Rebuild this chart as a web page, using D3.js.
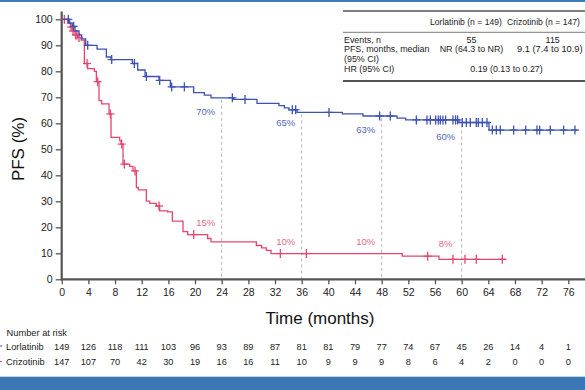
<!DOCTYPE html>
<html><head><meta charset="utf-8">
<script src="https://cdn.jsdelivr.net/npm/d3@7"></script>
<style>
html,body{margin:0;padding:0;background:#fff;overflow:hidden}
svg{display:block;font-family:"Liberation Sans",Arial,Helvetica,sans-serif}
</style></head><body>
<svg id="c" width="585" height="390"></svg>
<script>
// ---------- DATA ----------
const xTicks = d3.range(0, 77, 4);
const yTicks = d3.range(0, 101, 10);

// Lorlatinib KM steps: [time (months), PFS %]
const lorlaTimes  = [0, 1.2, 1.6, 2.0, 2.6, 3.0, 3.6, 5.3, 6.7, 7.4, 10.6, 11.4, 12.5, 14.6, 16.3, 19.8, 21.4, 22.4, 25.8, 29.3, 32.6, 33.4, 34.1, 35.3, 42.1, 45.2, 50.3, 51.6, 59.6, 64.1, 77.4];
const lorlaValues = [100, 98.5, 97.3, 95.5, 94, 92.5, 90, 88.5, 85.5, 84.5, 83, 80.5, 78, 76.5, 74, 71.8, 70.8, 69.8, 69.2, 67.7, 66.8, 65.9, 65.2, 64.2, 63.6, 62.8, 62, 61.3, 60.3, 57.4, 57.4];
const lorlaCensor = [1.0, 1.8, 3.9, 7.5, 10.9, 12.7, 14.7, 16.5, 18.4, 25.6, 27.5, 34.6, 35.1, 40.1, 47.7, 49.3, 53.2, 54.8, 55.3, 56.1, 56.5, 56.8, 57.2, 57.6, 58.7, 59.1, 59.4, 60.1, 60.7, 61.3, 62.2, 62.5, 63.1, 63.8, 64.6, 65.2, 65.8, 67.8, 69.6, 71.3, 71.7, 73.3, 75.3, 77.0];

// Crizotinib KM steps
const crizoTimes  = [0, 0.9, 1.3, 1.6, 2.0, 2.4, 2.9, 3.4, 3.9, 4.9, 5.2, 5.6, 6.0, 7.1, 7.4, 8.7, 8.9, 9.2, 10.2, 10.7, 11.2, 11.5, 12.7, 13.2, 14.2, 14.7, 15.9, 16.6, 18.2, 18.9, 21.9, 22.4, 29.2, 30.0, 30.7, 31.4, 51.1, 56.6, 66.7];
const crizoValues = [100, 98.5, 97, 95.5, 94, 93, 92, 83, 81, 80, 76, 68.7, 67.5, 63.6, 54.6, 53.3, 52, 44.3, 43.4, 41.7, 35.3, 34.4, 30.1, 29.2, 28.2, 26.3, 25.9, 22.4, 18.3, 17.2, 15.7, 14.4, 13, 12.1, 11.1, 9.9, 8.9, 7.7, 7.7];
const crizoCensor = [0.4, 1.4, 1.7, 2.1, 2.3, 2.6, 3.8, 5.4, 7.3, 9.0, 9.4, 11.0, 14.6, 19.8, 32.8, 36.7, 54.9, 58.7, 60.5, 62.2, 66.1];

const landmarkMonths = [24, 36, 48, 60];
const lorlaLandmarkLabels = ["70%", "65%", "63%", "60%"];
const crizoLandmarkLabels = ["15%", "10%", "10%", "8%"];

const riskNames = ["Lorlatinib", "Crizotinib"];
const lorlaAtRisk = [149, 126, 118, 111, 103, 96, 93, 89, 87, 81, 81, 79, 77, 74, 67, 45, 26, 14, 4, 1];
const crizoAtRisk = [147, 107, 70, 42, 30, 19, 16, 16, 11, 10, 9, 9, 9, 8, 6, 4, 2, 0, 0, 0];

const tableHeader = ["Lorlatinib (n = 149)", "Crizotinib (n = 147)"];
const tableRows = [
  ["Events, n", "55", "115"],
  ["PFS, months, median", "NR (64.3 to NR)", "9.1 (7.4 to 10.9)"],
  ["(95% CI)", "", ""],
  ["HR (95% CI)", "0.19 (0.13 to 0.27)", null]
];

// ---------- DRAW ----------
const BLUE = "#3d52b3", RED = "#e4466f", AX = "#555";
const svg = d3.select("#c");
const x = d3.scaleLinear().domain([0, 76]).range([61.7, 568.3]);
const y = d3.scaleLinear().domain([0, 100]).range([279.3, 19.3]);

// frame bands
svg.append("rect").attr("x",0).attr("y",0).attr("width",585).attr("height",2).attr("fill","#3d7ab8");
svg.append("rect").attr("x",0).attr("y",376.7).attr("width",585).attr("height",14).attr("fill","#3a77b4");

function valAt(times, vals, t){
  let v = vals[0];
  for (let i=0;i<times.length;i++){ if (times[i] <= t) v = vals[i]; }
  return v;
}

// landmark dashed lines
landmarkMonths.forEach(m => {
  svg.append("line").attr("x1",x(m)).attr("x2",x(m))
    .attr("y1",y(valAt(lorlaTimes,lorlaValues,m))+2).attr("y2",y(0))
    .attr("stroke","#b5b5b5").attr("stroke-width",1).attr("stroke-dasharray","3,3");
});

// axes
const xAxis = d3.axisBottom(x).tickValues(xTicks).tickSize(5).tickPadding(4);
const gx = svg.append("g").attr("transform",`translate(0,${y(0)})`).call(xAxis);
gx.select(".domain").remove();
gx.append("line").attr("x1",x(0)).attr("x2",585).attr("stroke",AX).attr("stroke-width",2.2);
gx.selectAll(".tick line").attr("stroke",AX).attr("stroke-width",1.3);
gx.selectAll(".tick text").attr("font-size",10.5).attr("fill","#222").attr("font-family","Liberation Sans, Arial, sans-serif");

const yAxis = d3.axisLeft(y).tickValues(yTicks).tickSize(6).tickPadding(3);
const gy = svg.append("g").attr("transform",`translate(${x(0)},0)`).call(yAxis);
gy.select(".domain").remove();
gy.append("line").attr("y1",11.5).attr("y2",y(0)+1).attr("stroke",AX).attr("stroke-width",2.2);
gy.selectAll(".tick line").attr("stroke",AX).attr("stroke-width",1.3);
gy.selectAll(".tick text").attr("font-size",10.5).attr("fill","#222").attr("font-family","Liberation Sans, Arial, sans-serif");

// axis titles
svg.append("text").attr("x",320).attr("y",324).attr("text-anchor","middle")
  .attr("font-size",17).attr("fill","#111").text("Time (months)");
svg.append("text").attr("transform","translate(24,149) rotate(-90)").attr("text-anchor","middle")
  .attr("font-size",17).attr("fill","#111").text("PFS (%)");

// curves
const line = d3.line().x(d=>x(d[0])).y(d=>y(d[1])).curve(d3.curveStepAfter);
function drawCurve(times, vals, censor, color){
  const pts = times.map((t,i)=>[t, vals[i]]);
  svg.append("path").datum(pts).attr("d",line).attr("fill","none")
    .attr("stroke",color).attr("stroke-width",1.3);
  const g = svg.append("g");
  censor.forEach(t => {
    const cx = x(t), cy = y(valAt(times, vals, t));
    g.append("line").attr("x1",cx).attr("x2",cx).attr("y1",cy-4.5).attr("y2",cy+4.5)
      .attr("stroke",color).attr("stroke-width",1.3);
    g.append("line").attr("x1",cx-4).attr("x2",cx+4).attr("y1",cy).attr("y2",cy)
      .attr("stroke",color).attr("stroke-width",1.2);
  });
}
drawCurve(crizoTimes, crizoValues, crizoCensor, RED);
drawCurve(lorlaTimes, lorlaValues, lorlaCensor, BLUE);

// landmark labels
landmarkMonths.forEach((m,i) => {
  svg.append("text").attr("x",x(m)-16).attr("y",y(valAt(lorlaTimes,lorlaValues,m))+ (i===1?14:17))
    .attr("text-anchor","middle").attr("font-size",9.5).attr("fill","#5567bf").text(lorlaLandmarkLabels[i]);
  svg.append("text").attr("x",x(m)-16).attr("y",y(valAt(crizoTimes,crizoValues,m)) - (i===0?16:(i===3?12:9)))
    .attr("text-anchor","middle").attr("font-size",9.5).attr("fill","#e66889").text(crizoLandmarkLabels[i]);
});

// number at risk
svg.append("text").attr("x",6.5).attr("y",335.5).attr("font-size",9.3).attr("fill","#222").text("Number at risk");
[lorlaAtRisk, crizoAtRisk].forEach((arr, r) => {
  const yy = r===0 ? 349.5 : 365;
  svg.append("line").attr("x1",-3).attr("x2",2).attr("y1",yy-3.5).attr("y2",yy-3.5)
    .attr("stroke", r===0?BLUE:RED).attr("stroke-width",1);
  svg.append("text").attr("x",6).attr("y",yy).attr("font-size",9.3).attr("fill","#222").text(riskNames[r]);
  arr.forEach((n,i) => {
    svg.append("text").attr("x",x(xTicks[i])).attr("y",yy).attr("text-anchor","middle")
      .attr("font-size",9.2).attr("fill","#222").text(n);
  });
});

// summary table
const tg = svg.append("g").attr("font-size",8.9).attr("fill","#222");
tg.append("line").attr("x1",343).attr("x2",585).attr("y1",11).attr("y2",11).attr("stroke",AX).attr("stroke-width",1.6);
tg.append("line").attr("x1",343).attr("x2",585).attr("y1",32.3).attr("y2",32.3).attr("stroke",AX).attr("stroke-width",0.8);
tg.append("line").attr("x1",343).attr("x2",585).attr("y1",81).attr("y2",81).attr("stroke",AX).attr("stroke-width",2);
tg.append("text").attr("x",430).attr("y",24.7).attr("font-size",8.6).text(tableHeader[0]);
tg.append("text").attr("x",507).attr("y",24.7).attr("font-size",8.6).text(tableHeader[1]);
const rowY = [43, 52, 62, 72];
tableRows.forEach((row, i) => {
  tg.append("text").attr("x",344).attr("y",rowY[i]).text(row[0]);
  if (row[2] === null) {
    tg.append("text").attr("x",506.5).attr("y",rowY[i]).attr("text-anchor","middle").text(row[1]);
  } else {
    if (row[1]) tg.append("text").attr("x",471.5).attr("y",rowY[i]).attr("text-anchor","middle").text(row[1]);
    if (row[2]) tg.append("text").attr("x", i===0 ? 552.7 : 517).attr("y",rowY[i])
      .attr("text-anchor", i===0 ? "middle" : "start").attr("font-size", i===0 ? null : 9.3).text(row[2]);
  }
});
</script>
</body></html>
